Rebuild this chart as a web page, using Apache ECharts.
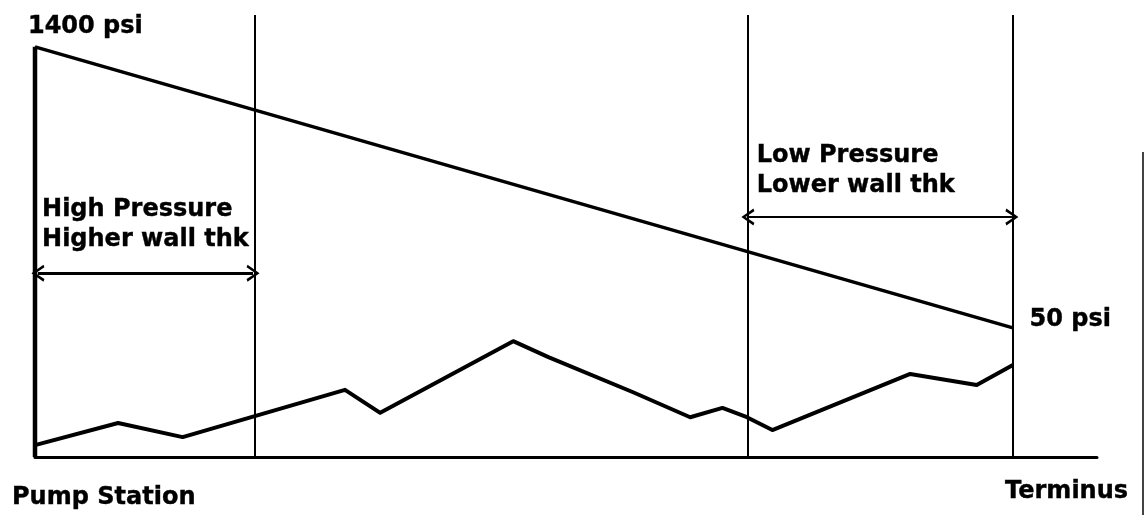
<!DOCTYPE html>
<html>
<head>
<meta charset="utf-8">
<script src="https://cdn.jsdelivr.net/npm/echarts@6/dist/echarts.min.js"></script>
<style>
  html, body { margin: 0; padding: 0; background: #fff; }
  #chart { width: 1145px; height: 515px; }
</style>
</head>
<body>
<div id="chart"></div>
<script>
// distance along the line (terminus = 100) and head, arbitrary units
const pumpHead = [[0, 0], [0, 92.8]];
const hydraulicGradient = [[0, 92.8], [100, 29.2]];
const elevationProfile = [
  [0, 2.7], [8.5, 7.7], [15.1, 4.5], [31.7, 15.2], [35.3, 10.0],
  [48.9, 26.2], [52.5, 22.6], [61.1, 14.7], [67.0, 9.0], [70.3, 11.1],
  [72.8, 9.0], [75.4, 6.1], [89.5, 18.8], [96.3, 16.3], [100, 20.8]
];
const sectionBreaks = [22.5, 72.9, 100];
const highArrow = [0.3, 22.3, 41.6];   // from, to, level
const lowArrow = [72.9, 99.9, 54.3];
const notes = [
  { text: '1400 psi', at: [-0.72, 97.3] },
  { text: 'High Pressure\nHigher wall thk', at: [0.72, 52.6] },
  { text: 'Low Pressure\nLower wall thk', at: [73.8, 64.8] },
  { text: '50 psi', at: [101.7, 31.0] },
  { text: 'Pump Station', at: [-2.35, -9.3] },
  { text: 'Terminus', at: [99.2, -7.9] }
];

const chart = echarts.init(document.getElementById('chart'));
const arrowHead = 'path://M0,10 L5,0 L10,10 L8.4,10.8 L5,3.4 L1.6,10.8 Z';
const font = '"DejaVu Sans", Verdana, sans-serif';

chart.setOption({
  animation: false,
  backgroundColor: '#fff',
  grid: { left: 35, right: 48, top: 15, bottom: 58 },
  xAxis: {
    type: 'value', min: 0, max: 108.6,
    axisLine: { show: true, lineStyle: { color: '#000', width: 3 } },
    axisTick: { show: false }, axisLabel: { show: false }, splitLine: { show: false }
  },
  yAxis: {
    type: 'value', min: 0, max: 100,
    axisLine: { show: false }, axisTick: { show: false },
    axisLabel: { show: false }, splitLine: { show: false }
  },
  graphic: [{
    type: 'rect', left: 1142, top: 152,
    shape: { width: 2, height: 363 }, style: { fill: '#444' }
  }],
  series: [
    {
      name: 'pump', type: 'line', data: pumpHead, symbol: 'none',
      lineStyle: { color: '#000', width: 4.5 }
    },
    {
      name: 'gradient', type: 'line', data: hydraulicGradient, symbol: 'none',
      lineStyle: { color: '#000', width: 3.5 },
      markLine: {
        silent: true, symbol: 'none', label: { show: false },
        lineStyle: { color: '#000', width: 2, type: 'solid' },
        data: sectionBreaks.map(v => ({ xAxis: v }))
      }
    },
    {
      name: 'elevation', type: 'line', data: elevationProfile, symbol: 'none',
      lineStyle: { color: '#000', width: 4, join: 'round' }
    },
    {
      name: 'arrows', type: 'line', data: [], symbol: 'none',
      markLine: {
        silent: true, symbol: [arrowHead, arrowHead], symbolSize: [17, 13],
        label: { show: false },
        lineStyle: { color: '#000', type: 'solid' },
        data: [
          [{ coord: [highArrow[0], highArrow[2]], lineStyle: { width: 2.8 } },
           { coord: [highArrow[1], highArrow[2]] }],
          [{ coord: [lowArrow[0], lowArrow[2]], lineStyle: { width: 2.2 } },
           { coord: [lowArrow[1], lowArrow[2]] }]
        ]
      }
    },
    {
      name: 'notes', type: 'scatter', clip: false, symbolSize: 0, silent: true,
      itemStyle: { opacity: 1 },
      data: notes.map(n => ({
        value: n.at,
        label: {
          show: true, position: 'right', distance: 0,
          formatter: n.text, color: '#000', opacity: 1,
          fontFamily: font, fontWeight: 'bold', fontSize: 24, lineHeight: 30,
          textBorderColor: '#000', textBorderWidth: 0.4,
          align: 'left'
        }
      }))
    }
  ]
});
</script>
</body>
</html>
